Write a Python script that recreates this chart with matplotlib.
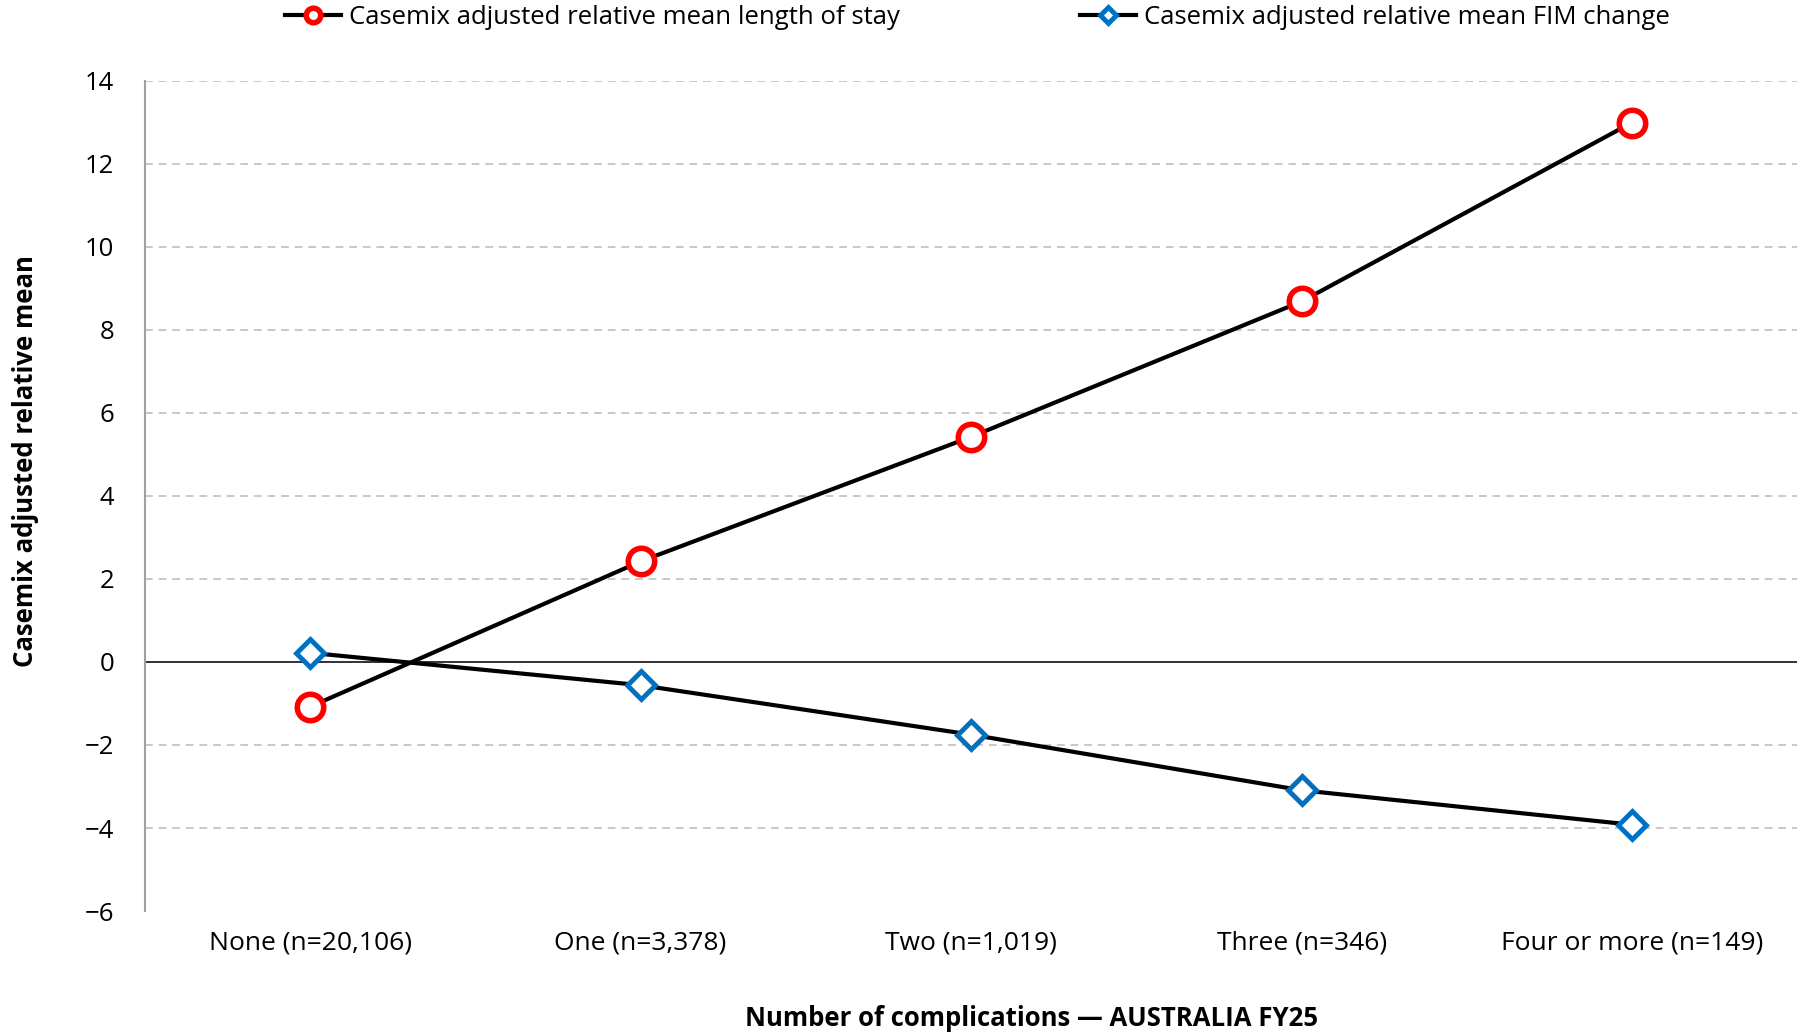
import matplotlib
matplotlib.use("Agg")
import matplotlib.pyplot as plt

plt.rcParams['font.family'] = ['Open Sans', 'DejaVu Sans']

categories = ["None (n=20,106)", "One (n=3,378)", "Two (n=1,019)",
              "Three (n=346)", "Four or more (n=149)"]
los_values = [-1.08, 2.42, 5.42, 8.68, 12.99]
fim_values = [0.22, -0.56, -1.75, -3.09, -3.92]
y_ticks = [-6, -4, -2, 0, 2, 4, 6, 8, 10, 12, 14]

fig = plt.figure(figsize=(18.1, 10.33), dpi=100)
ax = fig.add_axes([0.080, 0.118, 0.913, 0.804])

x = list(range(len(categories)))

# grid + zero line
for t in y_ticks:
    if t == 0:
        ax.axhline(0, color='#222222', lw=1.3, zorder=1)
    elif t != -6:
        ax.axhline(t, color='#c8c8c8', lw=1.4, ls=(0, (4, 3)), zorder=0)

ax.plot(x, los_values, color='black', lw=3, marker='o', markersize=19,
        markerfacecolor='white', markeredgecolor='#ff0000', markeredgewidth=4,
        label='Casemix adjusted relative mean length of stay', zorder=3)
ax.plot(x, fim_values, color='black', lw=3, marker='D', markersize=14,
        markerfacecolor='white', markeredgecolor='#0070c0', markeredgewidth=3.5,
        label='Casemix adjusted relative mean FIM change', zorder=3)

ax.set_xlim(-0.5, len(categories) - 0.5)
ax.set_ylim(-6, 14)
ax.set_yticks(y_ticks)
ax.set_xticks(x)
ax.set_xticklabels(categories, fontsize=19)
ax.tick_params(axis='y', labelsize=18.5, length=0, pad=22)
ax.tick_params(axis='x', length=0, pad=14)

for s in ['top', 'right', 'bottom']:
    ax.spines[s].set_visible(False)
ax.spines['left'].set_color('#a0a0a0')
ax.spines['left'].set_linewidth(1.5)

fig.text(0.014, 0.554, 'Casemix adjusted relative mean', fontsize=18.5, fontweight='bold',
         rotation=90, ha='center', va='center')
fig.text(0.570, 0.0145, 'Number of complications — AUSTRALIA FY25', fontsize=18.5,
         fontweight='bold', ha='center', va='center')

fig.legend(loc='upper center', bbox_to_anchor=(0.54, 1.005), ncol=2, frameon=False,
           fontsize=18.5, handlelength=2.2, columnspacing=7, borderaxespad=0.0,
           markerscale=0.55, handletextpad=0.3)

fig.savefig('out.png', dpi=100)
